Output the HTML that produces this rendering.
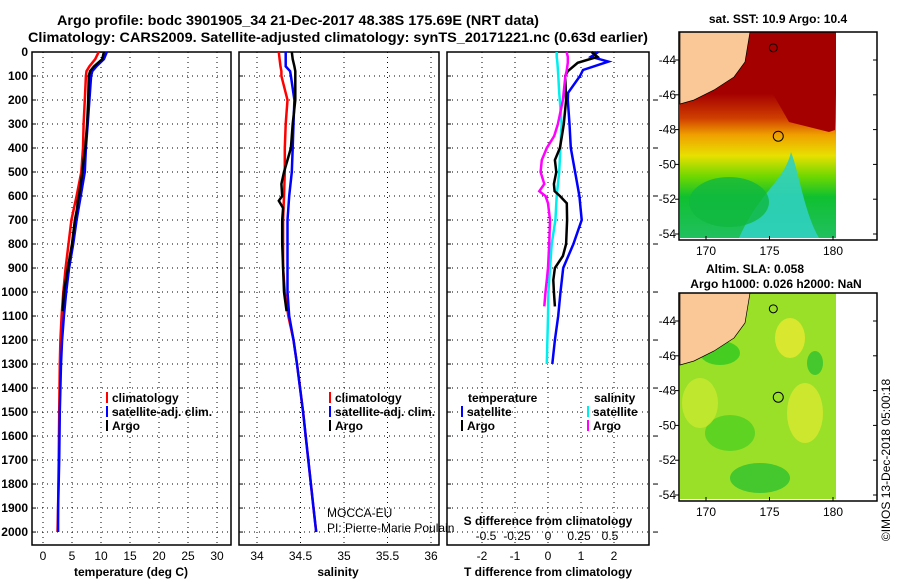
<!DOCTYPE html>
<html><head><meta charset="utf-8"><style>
body{margin:0;background:#fff;}
svg{display:block;font-family:"Liberation Sans",sans-serif;font-weight:bold;}
text{font-size:12px;fill:#000;}
</style></head><body>
<svg id="fig" width="900" height="580" viewBox="0 0 900 580">
<text x="298" y="25" text-anchor="middle" textLength="482" lengthAdjust="spacingAndGlyphs" style="font-size:14px">Argo profile: bodc 3901905_34 21-Dec-2017 48.38S 175.69E (NRT data)</text>
<text x="338" y="42" text-anchor="middle" textLength="620" lengthAdjust="spacingAndGlyphs" style="font-size:14px">Climatology: CARS2009. Satellite-adjusted climatology: synTS_20171221.nc (0.63d earlier)</text>
<g id="panels"></g>
<g id="maps"></g>
<text transform="translate(890,460) rotate(-90)" text-anchor="middle" style="font-weight:normal">©IMOS 13-Dec-2018 05:00:18</text>
</svg>
<script>
// ---- data ----
const depthTicks=[0,100,200,300,400,500,600,700,800,900,1000,1100,1200,1300,1400,1500,1600,1700,1800,1900,2000];
const tempTicks=[0,5,10,15,20,25,30];
const salTicks=[34,34.5,35,35.5,36];
const tdiffTicks=[-2,-1,0,1,2];
const sdiffTicks=[-0.5,-0.25,0,0.25,0.5];
const sdiffLabels=["-0.5","-0.25","0","0.25","0.5"];

const climDepth=[0,30,60,80,100,200,300,400,500,600,700,800,900,1000,1100,1200,1300,1500,1700,1900,2000];
const tempClim=[9.6,9.0,8.0,7.5,7.4,7.2,7.0,6.9,6.6,5.8,4.9,4.4,3.9,3.5,3.2,3.0,2.9,2.8,2.7,2.6,2.5];
const tempSat=[11.0,10.5,9.2,8.5,8.3,8.0,7.7,7.4,7.2,6.5,5.8,5.2,4.5,4.0,3.6,3.3,3.1,2.9,2.8,2.6,2.6];
const salClim=[34.25,34.26,34.27,34.28,34.28,34.35,34.33,34.32,34.32,34.31,34.30,34.30,34.30,34.32,34.36,34.42,34.46,34.53,34.59,34.65,34.68];
const salSat=[34.33,34.33,34.33,34.38,34.39,34.43,34.42,34.41,34.40,34.37,34.35,34.35,34.35,34.35,34.37,34.42,34.46,34.53,34.59,34.65,34.68];

const argoDepth=[0,30,60,80,100,200,300,400,450,500,550,600,620,650,700,800,900,1000,1080];
const tempArgo=[10.5,10.2,8.8,8.1,7.9,7.8,7.6,7.3,7.0,6.8,6.5,6.2,6.0,5.9,5.5,5.0,4.3,3.6,3.4];
const salArgo=[34.40,34.41,34.43,34.44,34.44,34.44,34.41,34.39,34.35,34.31,34.28,34.29,34.25,34.30,34.29,34.29,34.30,34.31,34.34];

const satDiffDepth=[0,20,40,75,100,170,200,300,400,500,600,700,800,900,1000,1100,1200,1300];
const tdiffSat=[1.52,1.3,1.83,1.06,0.97,0.61,0.60,0.65,0.69,0.82,0.95,1.02,0.77,0.46,0.38,0.31,0.21,0.13];
const sdiffSat=[0.07,0.07,0.075,0.08,0.083,0.09,0.095,0.11,0.10,0.09,0.07,0.06,0.03,0.016,0.003,0.0,-0.005,-0.01];

const argoDiffDepth=[0,20,45,80,100,200,300,350,400,450,500,550,580,600,630,700,800,850,900,950,1000,1060];
const tdiffArgo=[1.32,1.5,0.9,0.6,0.52,0.55,0.48,0.42,0.36,0.21,0.25,0.18,0.2,0.36,0.57,0.58,0.55,0.45,0.21,0.16,0.18,0.21];
const sdiffArgo=[0.15,0.16,0.16,0.15,0.14,0.12,0.08,0.05,-0.01,-0.05,-0.06,-0.03,-0.07,-0.02,0.0,0.016,0.01,0.005,0.0,-0.01,-0.02,-0.03];

const NS='http://www.w3.org/2000/svg';
const fig=document.getElementById('panels');
function el(tag,attrs,parent,txt){const e=document.createElementNS(NS,tag);for(const k in attrs)e.setAttribute(k,attrs[k]);if(txt!==undefined)e.textContent=txt;(parent||fig).appendChild(e);return e;}

const top0=52,bot=545,dMax=2054;
const yD=d=>top0+(d/dMax)*(bot-top0);
function lin(d0,d1,r0,r1){return v=>r0+(v-d0)/(d1-d0)*(r1-r0);}
const xT=lin(0,30,43,217);
const xS=lin(34,36,257,431);
const xTd=lin(-2,2,482,614);
const xSd=lin(0,0.5,548,610);

function panel(name,x0,x1,xticks,xf,labels,showY){
  const g=el('g',{});
  
  
  for(const t of xticks){const x=xf(t);
    const gl=el('line',{x1:x,x2:x,y1:top0,y2:bot,stroke:'#000','stroke-dasharray':'1,4','stroke-width':1},g);
    }
  for(const d of depthTicks){const y=yD(d);
    const gl=el('line',{x1:x0,x2:x1,y1:y,y2:y,stroke:'#000','stroke-dasharray':'1,4','stroke-width':1},g);
    
    el('line',{x1:x0,x2:x0+4,y1:y,y2:y,stroke:'#000'},g);
    if(showY){const t=el('text',{x:x0-4,y:y+4,'text-anchor':'end'},g,String(d));
      }}
  if(labels){xticks.forEach((t,i)=>{const tx=el('text',{x:xf(t),y:560,'text-anchor':'middle',style:'font-weight:normal'},g,labels[i]);
    });}
  const fr=el('rect',{x:x0,y:top0,width:x1-x0,height:bot-top0,fill:'none',stroke:'#000','stroke-width':1.5},g);
  
  return g;
}
function line(g,name,depths,vals,xf,color){
  const pts=depths.map((d,i)=>xf(vals[i]).toFixed(1)+','+yD(d).toFixed(1)).join(' ');
  const p=el('polyline',{points:pts,fill:'none',stroke:color,'stroke-width':2.5},g);
  
  
}
function legend(g,x,y,color,label,name){
  el('line',{x1:x,x2:x,y1:y-10,y2:y+1,stroke:color,'stroke-width':2},g);
  const t=el('text',{x:x+5,y:y},g,label);
  
  
}

// panel 1
const p1=panel('temperature-panel',32,231,tempTicks,xT,tempTicks.map(String),true);
line(p1,'temp-climatology-line',climDepth,tempClim,xT,'#f00');
line(p1,'temp-satellite-line',climDepth,tempSat,xT,'#00f');
line(p1,'temp-argo-line',argoDepth,tempArgo,xT,'#000');
legend(p1,107,402,'#f00','climatology','legend-climatology');
legend(p1,107,416,'#00f','satellite-adj. clim.','legend-satellite');
legend(p1,107,430,'#000','Argo','legend-argo');
el('text',{x:131,y:576,'text-anchor':'middle'},p1,'temperature (deg C)');

// panel 2
const p2=panel('salinity-panel',239,439,salTicks,xS,["34","34.5","35","35.5","36"],false);
line(p2,'sal-climatology-line',climDepth,salClim,xS,'#f00');
line(p2,'sal-satellite-line',climDepth,salSat,xS,'#00f');
line(p2,'sal-argo-line',argoDepth,salArgo,xS,'#000');
legend(p2,330,402,'#f00','climatology','legend-climatology');
legend(p2,330,416,'#00f','satellite-adj. clim.','legend-satellite');
legend(p2,330,430,'#000','Argo','legend-argo');
el('text',{x:338,y:576,'text-anchor':'middle'},p2,'salinity');
el('text',{x:327,y:517,style:'font-weight:normal'},p2,'MOCCA-EU');
el('text',{x:327,y:532,style:'font-weight:normal'},p2,'PI: Pierre-Marie Poulain');

// panel 3
const p3=panel('difference-panel',447,649,tdiffTicks,xTd,["-2","-1","0","1","2"],false);
line(p3,'tdiff-satellite-line',satDiffDepth,tdiffSat,xTd,'#00f');
line(p3,'sdiff-satellite-line',satDiffDepth,sdiffSat,xSd,'#0ee');
line(p3,'tdiff-argo-line',argoDiffDepth,tdiffArgo,xTd,'#000');
line(p3,'sdiff-argo-line',argoDiffDepth,sdiffArgo,xSd,'#f0f');
el('text',{x:468,y:402},p3,'temperature');
el('text',{x:594,y:402},p3,'salinity');
legend(p3,462,416,'#00f','satellite','legend-t-satellite');
legend(p3,462,430,'#000','Argo','legend-t-argo');
legend(p3,588,416,'#0ee','satellite','legend-s-satellite');
legend(p3,588,430,'#f0f','Argo','legend-s-argo');
el('text',{x:548,y:525,'text-anchor':'middle'},p3,'S difference from climatology');
sdiffTicks.forEach((t,i)=>{const tx=el('text',{x:xSd(t),y:540,'text-anchor':'middle',style:'font-weight:normal'},p3,sdiffLabels[i]);
  });
el('text',{x:548,y:576,'text-anchor':'middle'},p3,'T difference from climatology');
for(const d of depthTicks){if(d%200===0&&d>0)el('line',{x1:653,x2:658,y1:yD(d),y2:yD(d),stroke:'#000'},p3);}

// ---- maps ----
const mg=document.getElementById('maps');
const latTicks=[-44,-46,-48,-50,-52,-54];
const lonTicks=[170,175,180];
function map(name,y0,isSST){
  const g=el('g',{},mg);
  
  
  const x0=679,x1=877,y1=y0+208,dx=835;
  const yL=lin(-44,-54,y0+28,y0+202);
  const xL=lin(170,180,706,833);
  const gid=name+'-grad';
  const defs=el('defs',{},g);
  if(isSST){
    const gr=el('linearGradient',{id:gid,x1:0,y1:0,x2:0,y2:1},defs);
    [[0,'#a50000'],[0.3,'#a50000'],[0.42,'#d04000'],[0.5,'#f0a000'],[0.6,'#e8e000'],[0.7,'#70d800'],[0.8,'#10c030'],[1,'#20c060']].forEach(s=>el('stop',{offset:s[0],'stop-color':s[1]},gr));
    el('rect',{x:x0+1,y:y0,width:dx-x0,height:206,fill:`url(#${gid})`},g);
    el('polygon',{points:`${dx},${y0} ${dx},${y0+98} ${x0+150},${y0+100} ${x0+110},${y0+90} ${x0+90},${y0+55} ${x0+60},${y0+35} ${x0+40},${y0}`,fill:'#a50000'},g);
    el('path',{d:`M${x0+60},${y0+206} C${x0+80},${y0+160} ${x0+105},${y0+150} ${x0+112},${y0+120} C${x0+120},${y0+140} ${x0+125},${y0+180} ${x0+140},${y0+206} Z`,fill:'#30d0c0',opacity:0.9},g);
    el('ellipse',{cx:x0+50,cy:y0+170,rx:40,ry:25,fill:'#10b840',opacity:0.8},g);
  }else{
    el('rect',{x:x0+1,y:y0,width:dx-x0,height:206,fill:'#9ae028'},g);
    [[720,y0+60,20,12,'#30c820'],[730,y0+140,25,18,'#50d020'],[790,y0+45,15,20,'#e8e830'],[805,y0+120,18,30,'#d8e830'],[760,y0+185,30,15,'#30c030'],[700,y0+110,18,25,'#c8e830'],[815,y0+70,8,12,'#30c030']].forEach(c=>el('ellipse',{cx:c[0],cy:c[1],rx:c[2],ry:c[3],fill:c[4],opacity:0.8},g));
  }
  el('polygon',{points:`${x0+1},${y0} ${x0+71},${y0} ${x0+66},${y0+30} ${x0+55},${y0+45} ${x0+35},${y0+58} ${x0+15},${y0+68} ${x0+1},${y0+72}`,fill:'#f9c896',stroke:'#000','stroke-width':0.7},g);
  el('circle',{cx:xL(175.69),cy:yL(-48.38),r:5,fill:'none',stroke:'#000'},g);
  el('circle',{cx:xL(175.3),cy:yL(-43.3),r:4,fill:'none',stroke:'#000'},g);
  el('rect',{x:x0,y:y0,width:x1-x0,height:y1-y0,fill:'none',stroke:'#000','stroke-width':1.5},g);
  for(const t of latTicks){const y=yL(t);el('line',{x1:x0,x2:x0-4,y1:y,y2:y,stroke:'#000'},g);el('line',{x1:x1,x2:x1-4,y1:y,y2:y,stroke:'#000'},g);
    const tx=el('text',{x:x0-3,y:y+4,'text-anchor':'end',style:'font-weight:normal'},g,String(t));
    }
  for(const t of lonTicks){const x=xL(t);el('line',{x1:x,x2:x,y1:y1,y2:y1-4,stroke:'#000'},g);
    const tx=el('text',{x:x,y:y1+15,'text-anchor':'middle',style:'font-weight:normal'},g,String(t));
    }
}
map('sst-map',32,true);
map('sla-map',293,false);
el('text',{x:778,y:23,'text-anchor':'middle'},mg,'sat. SST: 10.9 Argo: 10.4');
el('text',{x:755,y:273,'text-anchor':'middle'},mg,'Altim. SLA: 0.058');
el('text',{x:776,y:288,'text-anchor':'middle'},mg,'Argo h1000: 0.026 h2000: NaN');
</script>
</body></html>
